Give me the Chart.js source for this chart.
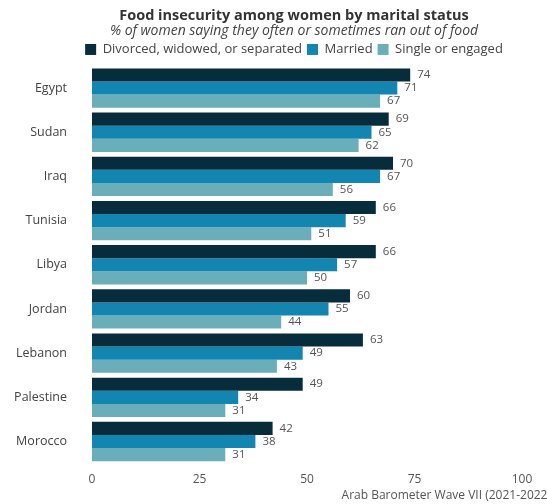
<!DOCTYPE html>
<html>
<head>
<meta charset="utf-8">
<script src="https://cdn.jsdelivr.net/npm/chart.js@4"></script>
<style>
  html, body { margin: 0; padding: 0; background: #fff; }
  #wrap { width: 547px; height: 504px; position: relative; }
</style>
</head>
<body>
<div id="wrap"><canvas id="chart"></canvas></div>
<script>
// data
const countries = ["Egypt", "Sudan", "Iraq", "Tunisia", "Libya", "Jordan", "Lebanon", "Palestine", "Morocco"];
const divorced = [74, 69, 70, 66, 66, 60, 63, 49, 42];
const married = [71, 65, 67, 59, 57, 55, 49, 34, 38];
const single = [67, 62, 56, 51, 50, 44, 43, 31, 31];
const xTicks = [0, 25, 50, 75, 100];

const FONT = "'Open Sans', sans-serif";
const gray = "#555";

// value labels at the end of each bar
const barLabels = {
    id: "barLabels",
    afterDatasetsDraw(chart) {
        const ctx = chart.ctx;
        ctx.save();
        ctx.font = "11.5px " + FONT;
        ctx.fillStyle = gray;
        ctx.textAlign = "left";
        ctx.textBaseline = "middle";
        chart.data.datasets.forEach((ds, i) => {
            chart.getDatasetMeta(i).data.forEach((bar, j) => {
                ctx.fillText(ds.data[j], bar.x + 7, bar.y);
            });
        });
        ctx.restore();
    }
};

// source note bottom right (runs off the edge like the original)
const sourceNote = {
    id: "sourceNote",
    afterDraw(chart) {
        const ctx = chart.ctx;
        ctx.save();
        ctx.font = "12px " + FONT;
        ctx.fillStyle = gray;
        ctx.textAlign = "right";
        ctx.textBaseline = "middle";
        ctx.fillText("Arab Barometer Wave VII (2021-2022)", chart.width + 4, 496);
        ctx.restore();
    }
};

// the header in the original is centred a bit right of the canvas middle
const shiftHeader = {
    id: "shiftHeader",
    afterLayout(chart) {
        chart.boxes.filter(b => b.position === "top").forEach(b => {
            b.left += 33;
            b.right += 33;
        });
    }
};

new Chart(document.getElementById("chart"), {
    type: "bar",
    data: {
        labels: countries,
        datasets: [
            { label: "Divorced, widowed, or separated", data: divorced, backgroundColor: "#072c3b" },
            { label: "Married", data: married, backgroundColor: "#1385b1" },
            { label: "Single or engaged", data: single, backgroundColor: "#6aaeba" }
        ]
    },
    options: {
        indexAxis: "y",
        responsive: true,
        maintainAspectRatio: false,
        animation: false,
        datasets: {
            bar: { categoryPercentage: 0.89, barPercentage: 1.0, borderWidth: 0 }
        },
        layout: { padding: { top: 8, right: 25, bottom: 16, left: 0 } },
        plugins: {
            title: {
                display: true,
                text: "Food insecurity among women by marital status",
                color: "#333",
                font: { family: FONT, size: 14.5, weight: "bold", lineHeight: 1.1 },
                padding: { top: 0, bottom: 0 }
            },
            subtitle: {
                display: true,
                text: "% of women saying they often or sometimes ran out of food",
                color: "#444",
                font: { family: FONT, size: 14, style: "italic", lineHeight: 1.0 },
                padding: { top: 0, bottom: 0 }
            },
            legend: {
                display: true,
                labels: {
                    color: "#444",
                    font: { family: FONT, size: 13 },
                    boxWidth: 11,
                    boxHeight: 11,
                    padding: 5
                }
            },
            tooltip: { enabled: false }
        },
        scales: {
            x: {
                min: 0,
                max: 100,
                afterBuildTicks: (axis) => { axis.ticks = xTicks.map(v => ({ value: v })); },
                grid: { display: false },
                border: { display: false },
                ticks: { color: gray, font: { family: FONT, size: 12 }, padding: 1 }
            },
            y: {
                afterFit: (axis) => { axis.width = 92; },
                grid: { display: false },
                border: { display: false },
                ticks: { color: "#444", font: { family: FONT, size: 12.5 }, padding: 17 }
            }
        }
    },
    plugins: [barLabels, sourceNote, shiftHeader]
});
</script>
</body>
</html>
